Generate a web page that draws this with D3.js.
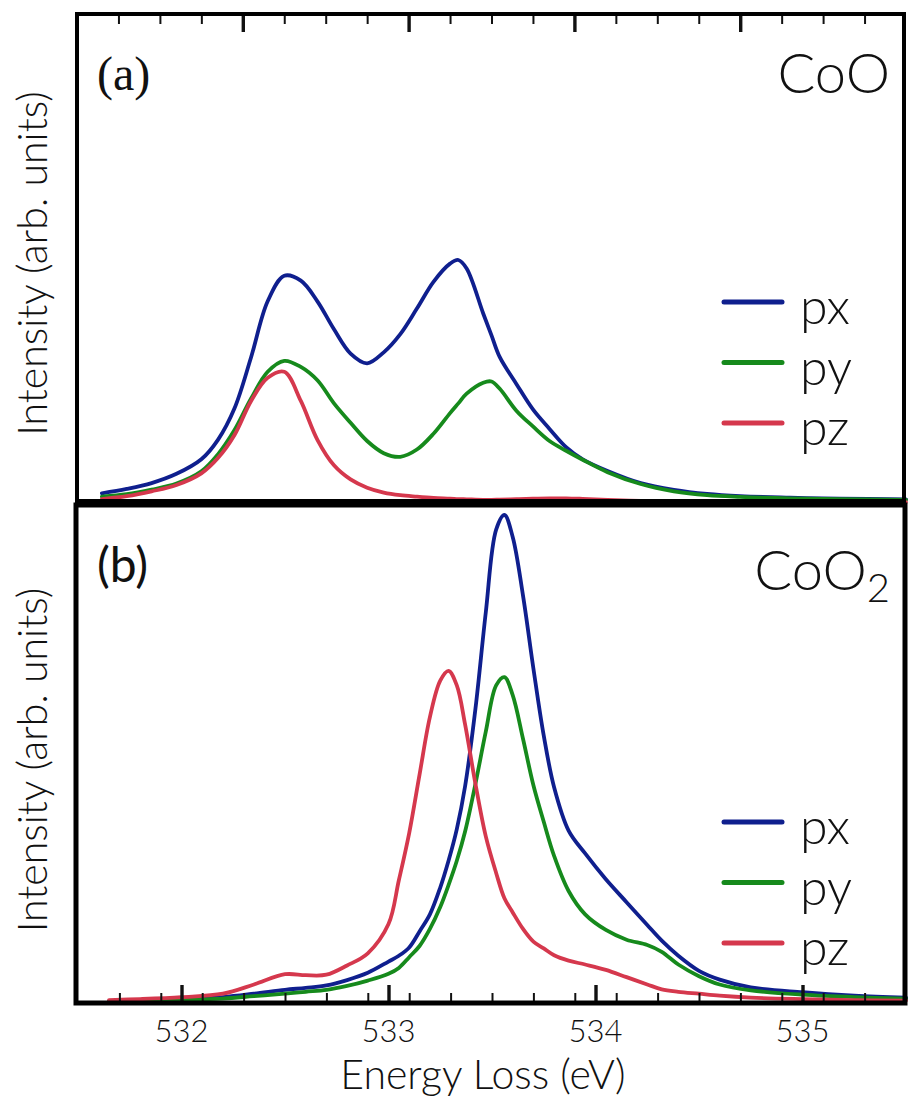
<!DOCTYPE html>
<html>
<head>
<meta charset="utf-8">
<script src="https://cdn.jsdelivr.net/npm/d3@7"></script>
<style>
  html, body { margin: 0; padding: 0; background: #fff; }
  svg text { font-family: Lato, "Open Sans", sans-serif; font-weight: 300; fill: #111; }
</style>
</head>
<body>
<svg id="chart" width="909" height="1100"></svg>
<script>
// ---- data ----
// (a) CoO
const energyA = [531.15, 531.3, 531.45, 531.6, 531.75, 531.85, 531.95, 532.05, 532.15, 532.25,
  532.35, 532.45, 532.55, 532.65, 532.75, 532.85, 532.95, 533.05, 533.15, 533.25,
  533.3, 533.35, 533.45, 533.5, 533.55, 533.65, 533.75, 533.85, 533.95, 534.05,
  534.2, 534.4, 534.6, 534.8, 535.0, 535.3, 535.6, 536.0];
const pxA = [0.04, 0.058, 0.082, 0.12, 0.18, 0.26, 0.39, 0.6, 0.83, 0.935,
  0.915, 0.83, 0.715, 0.615, 0.575, 0.62, 0.695, 0.8, 0.91, 0.985,
  1.0, 0.965, 0.78, 0.69, 0.6, 0.49, 0.385, 0.305, 0.23, 0.18,
  0.132, 0.082, 0.054, 0.037, 0.028, 0.022, 0.018, 0.015];
const pyA = [0.026, 0.036, 0.055, 0.08, 0.13, 0.2, 0.3, 0.43, 0.54, 0.585,
  0.56, 0.505, 0.41, 0.33, 0.255, 0.205, 0.19, 0.22, 0.285, 0.37,
  0.41, 0.45, 0.495, 0.5, 0.47, 0.38, 0.315, 0.255, 0.215, 0.178,
  0.127, 0.078, 0.048, 0.032, 0.025, 0.019, 0.016, 0.013];
const pzA = [0.016, 0.028, 0.048, 0.074, 0.122, 0.185, 0.28, 0.42, 0.515, 0.54,
  0.42, 0.26, 0.155, 0.097, 0.063, 0.043, 0.032, 0.026, 0.021, 0.018,
  0.016, 0.015, 0.013, 0.013, 0.014, 0.016, 0.018, 0.019, 0.019, 0.017,
  0.013, 0.009, 0.007, 0.006, 0.005, 0.004, 0.004, 0.004];

// (b) CoO2
const energyB = [531.65, 531.8, 532.0, 532.2, 532.35, 532.5, 532.6, 532.7, 532.8, 532.9,
  533.0, 533.05, 533.1, 533.15, 533.2, 533.25, 533.29, 533.33, 533.37, 533.42,
  533.47, 533.52, 533.56, 533.6, 533.65, 533.7, 533.75, 533.8, 533.87, 533.95,
  534.05, 534.15, 534.25, 534.32, 534.4, 534.5, 534.6, 534.75, 535.0, 535.25, 535.5];
const pxB = [0.002, 0.003, 0.005, 0.01, 0.017, 0.025, 0.029, 0.034, 0.045, 0.06,
  0.083, 0.095, 0.112, 0.145, 0.18, 0.235, 0.29, 0.355, 0.443, 0.602,
  0.8, 0.97, 1.0, 0.955, 0.834, 0.685, 0.547, 0.441, 0.352, 0.305,
  0.252, 0.205, 0.158, 0.126, 0.095, 0.064, 0.046, 0.03, 0.02, 0.013, 0.009];
const pyB = [0.001, 0.002, 0.004, 0.007, 0.012, 0.017, 0.021, 0.025, 0.033, 0.044,
  0.058, 0.07, 0.092, 0.115, 0.15, 0.195, 0.24, 0.29, 0.35, 0.448,
  0.555, 0.65, 0.667, 0.63, 0.54, 0.445, 0.37, 0.3, 0.228, 0.18,
  0.148, 0.128, 0.117, 0.103, 0.077, 0.053, 0.036, 0.024, 0.015, 0.01, 0.007];
const pzB = [0.004, 0.006, 0.01, 0.017, 0.036, 0.057, 0.055, 0.056, 0.075, 0.1,
  0.16, 0.25, 0.347, 0.467, 0.585, 0.66, 0.68, 0.65, 0.57, 0.448,
  0.34, 0.265, 0.213, 0.184, 0.15, 0.124, 0.11, 0.096, 0.085, 0.077,
  0.066, 0.051, 0.036, 0.026, 0.021, 0.017, 0.013, 0.009, 0.006, 0.004, 0.003];

const seriesNames = ['px', 'py', 'pz'];
const seriesColors = ['#0f1f8e', '#168a1c', '#d5384d'];
const tickLabels = ['532', '533', '534', '535'];

// ---- layout ----
const svg = d3.select('#chart');

const panels = [
  {
    label: '(a)', labelFont: '"Liberation Serif", serif', compound: ['CoO', null],
    energy: energyA, values: [pxA, pyA, pzA],
    x: d3.scaleLinear().domain([531, 536]).range([77, 906]),
    y: d3.scaleLinear().domain([0, 1]).range([503, 260]),
    frame: { x: 77, y: 14, w: 827, h: 487, sw: 4 },
    ticksAt: 'top', minorStep: 0.25, legendY: 302, labelY: 90, compoundY: 93
  },
  {
    label: '(b)', labelFont: 'Lato, sans-serif', compound: ['CoO', '2'],
    energy: energyB, values: [pxB, pyB, pzB],
    x: d3.scaleLinear().domain([531.5, 535.5]).range([78, 906]),
    y: d3.scaleLinear().domain([0, 1]).range([1002, 515]),
    frame: { x: 76, y: 505, w: 829, h: 498, sw: 5 },
    ticksAt: 'bottom', minorStep: 0.2, legendY: 822, labelY: 582, compoundY: 590
  }
];

panels.forEach((p, pi) => {
  const g = svg.append('g').attr('class', 'panel-' + pi);
  const f = p.frame;

  // curves
  const line = d3.line()
    .x((d, i) => p.x(p.energy[i]))
    .y(d => p.y(d))
    .curve(d3.curveCatmullRom.alpha(0.5));
  p.values.forEach((vals, k) => {
    g.append('path')
      .datum(vals)
      .attr('d', line)
      .attr('fill', 'none')
      .attr('stroke', seriesColors[k])
      .attr('stroke-width', 3.8)
      .attr('stroke-linejoin', 'round')
      .attr('stroke-linecap', 'round');
  });

  // inward ticks via d3 axes
  const [d0, d1] = p.x.domain();
  const majors = d3.range(Math.ceil(d0), d1, 1).filter(v => v > d0 && v < d1);
  const nMinor = Math.round((d1 - d0) / p.minorStep);
  const minors = d3.range(1, nMinor).map(i => d0 + i * p.minorStep)
    .filter(v => Math.abs(v - Math.round(v)) > 1e-6);
  const top = p.ticksAt === 'top';
  const edge = top ? f.y : f.y + f.h;
  const mkAxis = top ? d3.axisTop : d3.axisBottom;

  const minorAxis = g.append('g')
    .attr('transform', `translate(0,${edge})`)
    .call(mkAxis(p.x).tickValues(minors).tickSize(-10).tickFormat(''));
  minorAxis.selectAll('.tick line').attr('stroke', '#111').attr('stroke-width', 2);

  const majorAxis = g.append('g')
    .attr('transform', `translate(0,${edge})`)
    .call(mkAxis(p.x).tickValues(majors).tickSize(-18).tickFormat(''));
  majorAxis.selectAll('.tick line').attr('stroke', '#111').attr('stroke-width', 3.4);
  g.selectAll('.domain').remove();

  // frame
  g.append('rect')
    .attr('x', f.x).attr('y', f.y).attr('width', f.w).attr('height', f.h)
    .attr('fill', 'none').attr('stroke', '#000').attr('stroke-width', f.sw);

  // panel label
  g.append('text')
    .attr('x', 97).attr('y', p.labelY)
    .style('font-family', p.labelFont)
    .style('font-weight', 400)
    .attr('font-size', 48)
    .text(p.label);

  // compound name
  const ct = g.append('text')
    .attr('x', 890).attr('y', p.compoundY)
    .attr('text-anchor', 'end')
    .attr('font-size', 56);
  ct.append('tspan').text(p.compound[0]);
  if (p.compound[1]) {
    ct.append('tspan').attr('font-size', 40).attr('dy', 12).text(p.compound[1]);
  }

  // legend
  seriesNames.forEach((name, k) => {
    const ly = p.legendY + k * 60.5;
    g.append('line')
      .attr('x1', 724).attr('x2', 782).attr('y1', ly).attr('y2', ly)
      .attr('stroke', seriesColors[k]).attr('stroke-width', 5)
      .attr('stroke-linecap', 'round');
    g.append('text')
      .attr('x', 800).attr('y', ly + 22)
      .attr('font-size', 50)
      .text(name);
  });

  // y-axis title
  const cy = f.y + f.h / 2;
  g.append('text')
    .attr('transform', `translate(47,${cy + 6}) rotate(-90)`)
    .attr('text-anchor', 'middle')
    .attr('font-size', 41)
    .text('Intensity (arb. units)');
});

// bottom tick labels
const xb = panels[1].x;
svg.append('g').selectAll('text').data(tickLabels).join('text')
  .attr('x', d => xb(+d))
  .attr('y', 1042)
  .attr('text-anchor', 'middle')
  .attr('font-size', 31)
  .text(d => d);

svg.append('text')
  .attr('x', 483).attr('y', 1089)
  .attr('text-anchor', 'middle')
  .attr('font-size', 41)
  .text('Energy Loss (eV)');
</script>
</body>
</html>
